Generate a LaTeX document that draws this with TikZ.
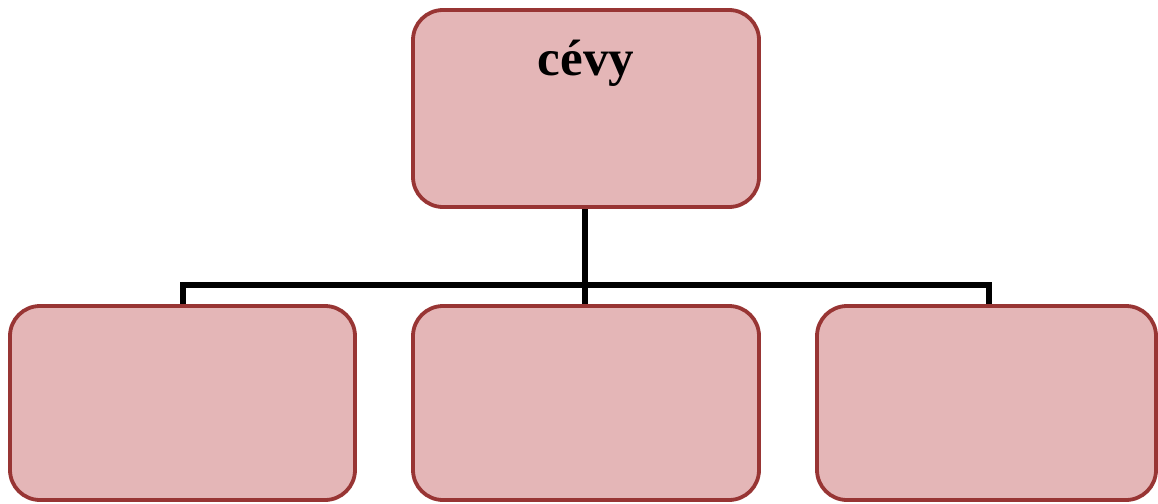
\documentclass[tikz,border=0pt]{standalone}
\usepackage{fontspec}
\setmainfont{Liberation Serif}
\definecolor{boxfill}{HTML}{E4B6B7}
\definecolor{boxdraw}{HTML}{983534}
\begin{document}
\begin{tikzpicture}[x=1pt,y=-1pt,
  orgbox/.style={draw=boxdraw,fill=boxfill,line width=3.8pt,rounded corners=30pt},
  conn/.style={draw=black,line width=5.5pt}]
\useasboundingbox (0,0) rectangle (1158,503);
% connectors first (behind boxes)
\coordinate (top) at (585,207);
\coordinate (bar) at (585,285);
\coordinate (lb) at (183,305);
\coordinate (mb) at (585,305);
\coordinate (rb) at (989,305);
\draw[conn] (top) -- (bar);
\draw[conn] (lb) -- (183,285) -- (989,285) -- (rb);
\draw[conn] (bar) -- (mb);
% boxes
\path[orgbox] (413,10) rectangle (759,207);
\path[orgbox] (10,306) rectangle (355,500);
\path[orgbox] (413,306) rectangle (759,500);
\path[orgbox] (817,306) rectangle (1156,500);
\node[font=\bfseries\fontsize{51}{60}\selectfont, anchor=base] (t) at (586,75) {cévy};
\end{tikzpicture}
\end{document}
